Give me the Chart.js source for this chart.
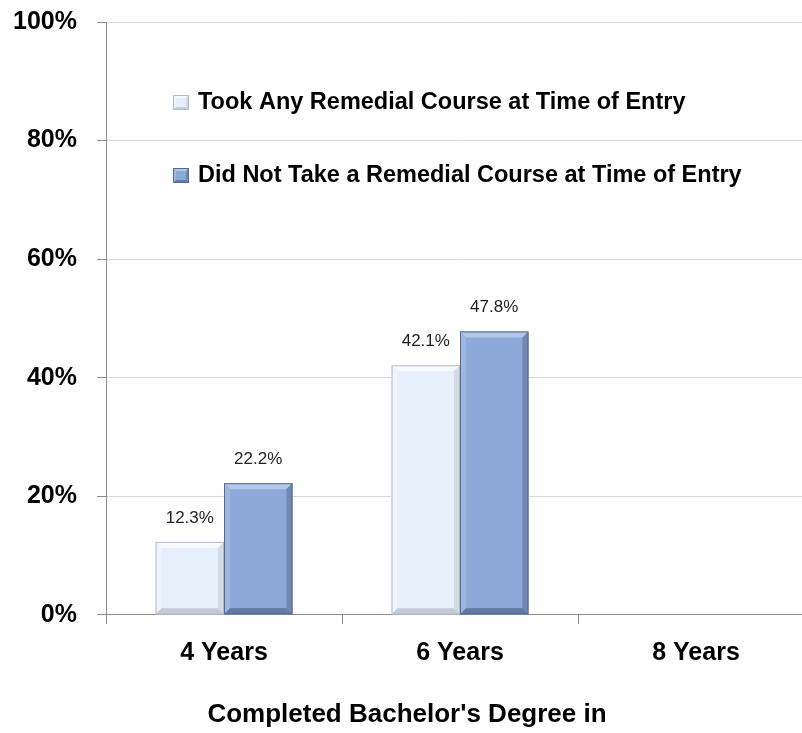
<!DOCTYPE html>
<html>
<head>
<meta charset="utf-8">
<script src="https://cdn.jsdelivr.net/npm/chart.js@4.4.1/dist/chart.umd.min.js"></script>
<style>
  html, body { margin: 0; padding: 0; background: #fff; overflow: hidden; }
  #wrap { width: 802px; height: 733px; position: relative; overflow: hidden; }
  canvas { display: block; }
</style>
</head>
<body>
<div id="wrap"><canvas id="remedialChart" width="834" height="733"></canvas></div>
<script>
const categories = ["4 Years", "6 Years", "8 Years"];
const seriesNames = [
  "Took Any Remedial Course at Time of Entry",
  "Did Not Take a Remedial Course at Time of Entry"
];
const tookRemedial = [12.3, 42.1, null];
const noRemedial = [22.2, 47.8, null];
const yTicks = [0, 20, 40, 60, 80, 100];
const xTitle = "Completed Bachelor's Degree in";

// face / bevel colours for each series
const palettes = [
  { face: "#E7EFFA", top: "#F6F9FD", left: "#EFF4FB", right: "#D2DAE5", bottom: "#C3CBD6", edge: "#B3BDCA" },
  { face: "#8DA9D7", top: "#B3C8E9", left: "#9EB7DF", right: "#7089B2", bottom: "#627aa3", edge: "#566B92" }
];

const FONT = "'Liberation Sans', Arial, sans-serif";

function drawBevel(ctx, x0, y0, x1, y1, p, b) {
  ctx.save();
  ctx.fillStyle = p.face;
  ctx.fillRect(x0, y0, x1 - x0, y1 - y0);
  // top
  ctx.fillStyle = p.top;
  ctx.beginPath();
  ctx.moveTo(x0, y0); ctx.lineTo(x1, y0); ctx.lineTo(x1 - b, y0 + b); ctx.lineTo(x0 + b, y0 + b);
  ctx.closePath(); ctx.fill();
  // left
  ctx.fillStyle = p.left;
  ctx.beginPath();
  ctx.moveTo(x0, y0); ctx.lineTo(x0 + b, y0 + b); ctx.lineTo(x0 + b, y1 - b); ctx.lineTo(x0, y1);
  ctx.closePath(); ctx.fill();
  // right
  ctx.fillStyle = p.right;
  ctx.beginPath();
  ctx.moveTo(x1, y0); ctx.lineTo(x1 - b, y0 + b); ctx.lineTo(x1 - b, y1 - b); ctx.lineTo(x1, y1);
  ctx.closePath(); ctx.fill();
  // bottom
  ctx.fillStyle = p.bottom;
  ctx.beginPath();
  ctx.moveTo(x0, y1); ctx.lineTo(x0 + b, y1 - b); ctx.lineTo(x1 - b, y1 - b); ctx.lineTo(x1, y1);
  ctx.closePath(); ctx.fill();
  ctx.strokeStyle = p.edge;
  ctx.lineWidth = 1;
  ctx.strokeRect(x0 + 0.5, y0 + 0.5, x1 - x0 - 1, y1 - y0 - 1);
  ctx.restore();
}

const bevelBars = {
  id: "bevelBars",
  afterDatasetsDraw(chart) {
    const ctx = chart.ctx;
    chart.data.datasets.forEach((ds, i) => {
      const meta = chart.getDatasetMeta(i);
      meta.data.forEach((bar, j) => {
        const v = ds.data[j];
        if (v === null || v === undefined) return;
        const x0 = bar.x - bar.width / 2, x1 = bar.x + bar.width / 2;
        drawBevel(ctx, x0, bar.y, x1, bar.base, palettes[i], 6);
        // value label
        ctx.save();
        ctx.fillStyle = "#222";
        ctx.font = "17px " + FONT;
        ctx.textAlign = "center";
        ctx.textBaseline = "middle";
        ctx.fillText(v.toFixed(1) + "%", bar.x, bar.y - 24);
        ctx.restore();
      });
    });
  },
  afterDraw(chart) {
    // legend inside the plot area
    const ctx = chart.ctx;
    const a = chart.chartArea;
    const lx = a.left + 67, ly = [a.top + 81, a.top + 154];
    seriesNames.forEach((name, i) => {
      drawBevel(ctx, lx, ly[i] - 8, lx + 16, ly[i] + 7, palettes[i], 3);
      ctx.save();
      ctx.fillStyle = "#000";
      ctx.font = "bold 23.5px " + FONT;
      ctx.textAlign = "left";
      ctx.textBaseline = "middle";
      ctx.fillText(name, lx + 25, ly[i]);
      ctx.restore();
    });
  }
};

const ctx = document.getElementById("remedialChart").getContext("2d");
const remedialChart = new Chart(ctx, {
  type: "bar",
  data: {
    labels: categories,
    datasets: [
      { label: seriesNames[0], data: tookRemedial, backgroundColor: "rgba(0,0,0,0)" },
      { label: seriesNames[1], data: noRemedial, backgroundColor: "rgba(0,0,0,0)" }
    ]
  },
  plugins: [bevelBars],
  options: {
    responsive: false,
    animation: false,
    events: [],
    layout: { padding: { top: 22, right: 20, left: 0, bottom: 0 } },
    categoryPercentage: 0.58,
    barPercentage: 1,
    plugins: {
      legend: { display: false },
      tooltip: { enabled: false },
      title: {
        display: true,
        position: "bottom",
        text: xTitle,
        color: "#000",
        font: { family: FONT, size: 26, weight: "bold", lineHeight: 1.2 },
        padding: { top: 0, bottom: 3 }
      }
    },
    scales: {
      y: {
        min: 0,
        max: 100,
        afterBuildTicks(scale) { scale.ticks = yTicks.map(v => ({ value: v })); },
        afterFit(scale) {
          scale.width = 106;
          scale.paddingTop = 0;
          scale.paddingBottom = 0;
        },
        ticks: {
          color: "#000",
          padding: 20,
          font: { family: FONT, size: 25, weight: "bold" },
          callback: v => v + "%"
        },
        grid: { color: "#D9D9D9", lineWidth: 1, tickLength: 9, tickColor: "#8C8C8C" },
        border: { color: "#8C8C8C", width: 1 }
      },
      x: {
        afterFit(scale) { scale.height = 84; },
        ticks: {
          color: "#000",
          padding: 14,
          font: { family: FONT, size: 25, weight: "bold" }
        },
        grid: { drawOnChartArea: false, offset: true, tickLength: 9, color: "#8C8C8C" },
        border: { color: "#8C8C8C", width: 1 }
      }
    }
  }
});
</script>
</body>
</html>
